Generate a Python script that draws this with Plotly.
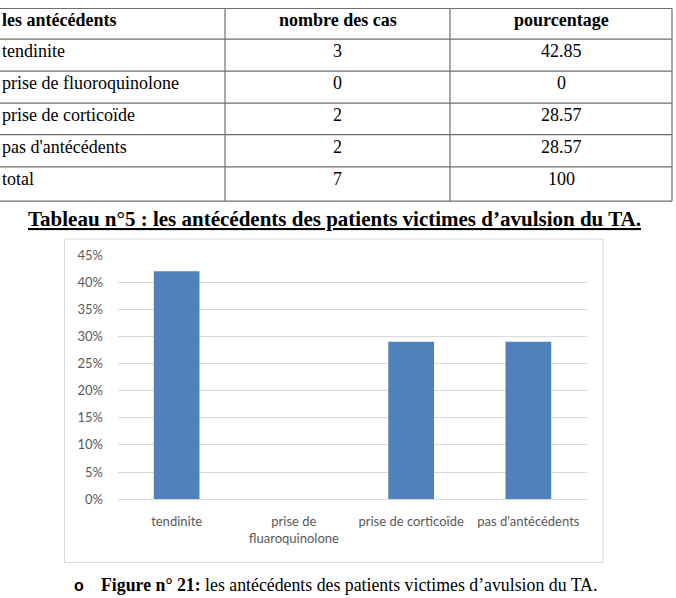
import plotly.graph_objects as go

# ---------------- data ----------------
table_header = ["les antécédents", "nombre des cas", "pourcentage"]
table_rows = ["tendinite", "prise de fluoroquinolone", "prise de corticoïde", "pas d'antécédents", "total"]
table_counts = ["3", "0", "2", "2", "7"]
table_pcts = ["42.85", "0", "28.57", "28.57", "100"]

categories = ["tendinite", "prise de<br>fluaroquinolone", "prise de corticoïde", "pas d'antécédents"]
values = [42, 0, 29, 29]
y_ticks = [0, 5, 10, 15, 20, 25, 30, 35, 40, 45]
y_tick_text = [f"{v}%" for v in y_ticks]

table_title = "Tableau n°5 : les antécédents des patients victimes d’avulsion du TA."
fig_caption_bold = "Figure n° 21:"
fig_caption_rest = " les antécédents des patients victimes d’avulsion du TA."

# ---------------- layout helpers ----------------
W, H = 676, 598
TOP, HEFF = 6.5, 583.0   # observed vertical placement of the page in the snapshot

def px(x):
    return x / W

def py(y):
    return 1 - (y - TOP) / HEFF

fig = go.Figure()
fig.add_trace(go.Bar(
    x=categories, y=values,
    marker=dict(color="#4F81BD", line=dict(width=0)),
    hoverinfo="skip",
))

shapes = []
annotations = []

# table lines
line_col = "#6e6e6e"
h_lines = [7, 37.7, 69.7, 101.7, 133.3, 165.7, 200]
v_lines = [225, 450, 672]
for y in h_lines:
    shapes.append(dict(type="line", xref="paper", yref="paper",
                       x0=px(-5), x1=px(672), y0=py(y), y1=py(y),
                       line=dict(color=line_col, width=1.2)))
for x in v_lines:
    shapes.append(dict(type="line", xref="paper", yref="paper",
                       x0=px(x), x1=px(x), y0=py(7), y1=py(200),
                       line=dict(color=line_col, width=1.2)))

serif = "Liberation Serif, Times New Roman, serif"
text_col = "#000000"
row_centers = [18.3, 50, 81.7, 113.3, 145.7, 177.3]
col_centers = [337.5, 561]
tsize = 18

annotations.append(dict(x=px(0), y=py(row_centers[0]), xref="paper", yref="paper",
                        text="<b>" + table_header[0] + "</b>", showarrow=False,
                        xanchor="left", yanchor="middle",
                        font=dict(family=serif, size=tsize, color=text_col)))
for c, t in zip(col_centers, table_header[1:]):
    annotations.append(dict(x=px(c), y=py(row_centers[0]), xref="paper", yref="paper",
                            text="<b>" + t + "</b>", showarrow=False,
                            xanchor="center", yanchor="middle",
                            font=dict(family=serif, size=tsize, color=text_col)))
for i, (r, n, p) in enumerate(zip(table_rows, table_counts, table_pcts)):
    yc = py(row_centers[i + 1])
    annotations.append(dict(x=px(0), y=yc, xref="paper", yref="paper",
                            text=r, showarrow=False, xanchor="left", yanchor="middle",
                            font=dict(family=serif, size=tsize, color=text_col)))
    annotations.append(dict(x=px(col_centers[0]), y=yc, xref="paper", yref="paper",
                            text=n, showarrow=False, xanchor="center", yanchor="middle",
                            font=dict(family=serif, size=tsize, color=text_col)))
    annotations.append(dict(x=px(col_centers[1]), y=yc, xref="paper", yref="paper",
                            text=p, showarrow=False, xanchor="center", yanchor="middle",
                            font=dict(family=serif, size=tsize, color=text_col)))

annotations.append(dict(x=px(334), y=py(218), xref="paper", yref="paper",
                        text="<b><u>" + table_title + "</u></b>", showarrow=False,
                        xanchor="center", yanchor="middle",
                        font=dict(family=serif, size=21, color=text_col)))

shapes.append(dict(type="rect", xref="paper", yref="paper",
                   x0=px(64.5), x1=px(603), y0=py(562), y1=py(238),
                   line=dict(color="#d9d9d9", width=1), fillcolor="rgba(0,0,0,0)",
                   layer="below"))

annotations.append(dict(x=px(79), y=0, xref="paper", yref="paper",
                        text="<b>o</b>", showarrow=False, xanchor="center", yanchor="bottom",
                        yshift=-6,
                        font=dict(family="Liberation Sans, Arial", size=16, color=text_col)))
annotations.append(dict(x=px(99), y=0, xref="paper", yref="paper",
                        text="<b>" + fig_caption_bold + "</b>" + fig_caption_rest,
                        showarrow=False, xanchor="left", yanchor="bottom", yshift=-7,
                        font=dict(family=serif, size=17.8, color=text_col)))

chart_font = "Lato, Calibri, sans-serif"
fig.update_layout(
    width=W, height=H,
    margin=dict(l=0, r=0, t=0, b=0),
    paper_bgcolor="white", plot_bgcolor="white",
    showlegend=False,
    bargap=0.61,
    shapes=shapes,
    annotations=annotations,
    xaxis=dict(domain=[px(118), px(587)], showgrid=False, zeroline=False,
               showline=True, linecolor="#d9d9d9", linewidth=1,
               ticks="", tickfont=dict(family=chart_font, size=13, color="#595959"),
               ticklabelstandoff=10, fixedrange=True),
    yaxis=dict(domain=[py(498.5), py(254)], range=[0, 45], tickmode="array",
               tickvals=y_ticks, ticktext=y_tick_text,
               showgrid=True, gridcolor="#d9d9d9", gridwidth=1,
               zeroline=False, showline=False, ticks="",
               tickfont=dict(family=chart_font, size=13, color="#595959"),
               ticklabelstandoff=14, fixedrange=True),
)

fig.write_html("out.html")
